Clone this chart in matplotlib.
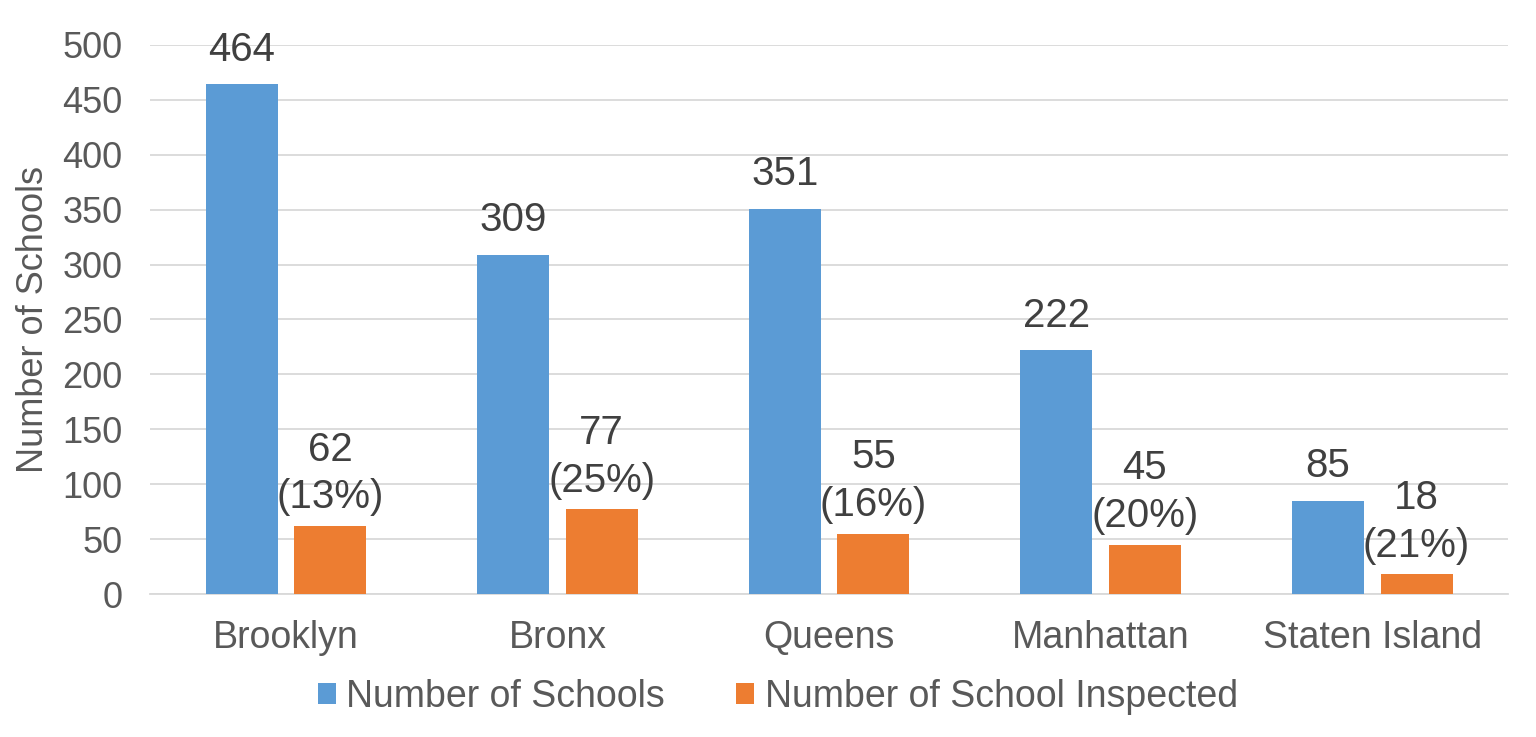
import matplotlib
matplotlib.use("Agg")
import matplotlib.pyplot as plt
import numpy as np

categories = ["Brooklyn", "Bronx", "Queens", "Manhattan", "Staten Island"]
schools = [464, 309, 351, 222, 85]
inspected = [62, 77, 55, 45, 18]
inspected_pct = ["13%", "25%", "16%", "20%", "21%"]
yticks = [0, 50, 100, 150, 200, 250, 300, 350, 400, 450, 500]

plt.rcParams['font.family'] = ['Liberation Sans', 'DejaVu Sans']
txt = '#404040'
tick_col = '#595959'
blue = '#5B9BD5'
orange = '#ED7D31'

fig = plt.figure(figsize=(15.36, 7.37), dpi=100)
ax = fig.add_axes([0.0977, 0.194, 0.8841, 0.745])
x = np.arange(len(categories))
w = 0.265
off = 0.163
b1 = ax.bar(x - off, schools, w, color=blue, label="Number of Schools", zorder=3)
b2 = ax.bar(x + off, inspected, w, color=orange, label="Number of School Inspected", zorder=3)

for xi, v in zip(x, schools):
    ax.annotate(str(v), (xi - off, v), xytext=(0, 11), textcoords='offset points',
                ha='center', va='bottom', fontsize=29, color=txt)
for xi, v, p in zip(x, inspected, inspected_pct):
    ax.annotate(f"{v}\n({p})", (xi + off, v), xytext=(0, 7), textcoords='offset points',
                ha='center', va='bottom', fontsize=29, color=txt, linespacing=1.32)

ax.set_xlim(-0.5, len(categories) - 0.5)
ax.set_ylim(0, 500)
ax.set_yticks(yticks)
ax.yaxis.grid(True, color='#D9D9D9', linewidth=1.3, zorder=0)
ax.set_axisbelow(True)
for s in ['top', 'right', 'left']:
    ax.spines[s].set_visible(False)
ax.spines['bottom'].set_color('#D9D9D9')
ax.spines['bottom'].set_linewidth(1.3)
ax.tick_params(axis='both', length=0, colors=tick_col)
ax.tick_params(axis='x', labelsize=27, pad=19)
ax.tick_params(axis='y', labelsize=26, pad=20)
ax.set_xticks(x)
ax.set_xticklabels(categories)
ax.set_ylabel("Number of Schools", fontsize=26, color=tick_col, labelpad=8)

leg = fig.legend(handles=[b1, b2], loc='center', bbox_to_anchor=(778 / 1536, 40 / 737),
                 ncol=2, frameon=False, fontsize=27, labelcolor=tick_col,
                 handlelength=0.48, handleheight=0.48, handletextpad=0.27,
                 columnspacing=1.9)

fig.savefig("out.png", dpi=100)
